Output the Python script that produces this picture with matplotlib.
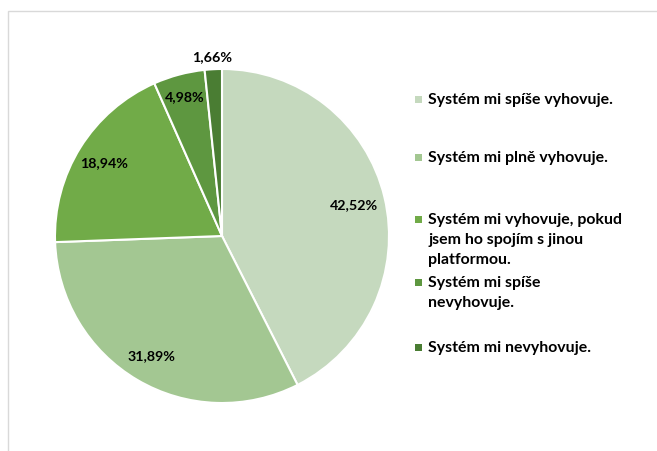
import numpy as np
import matplotlib
matplotlib.use('Agg')
import matplotlib.pyplot as plt
from matplotlib.patches import Rectangle

categories = ['Systém mi spíše vyhovuje.',
              'Systém mi plně vyhovuje.',
              'Systém mi vyhovuje, pokud\njsem ho spojím s jinou\nplatformou.',
              'Systém mi spíše\nnevyhovuje.',
              'Systém mi nevyhovuje.']
values = [42.52, 31.89, 18.94, 4.98, 1.66]
labels = ['42,52%', '31,89%', '18,94%', '4,98%', '1,66%']
colors = ['#C5D9BE', '#A3C792', '#71AB48', '#5E9740', '#4A7D33']

plt.rcParams['font.family'] = ['Lato', 'DejaVu Sans']

W, H = 657, 452
fig = plt.figure(figsize=(W/100, H/100), dpi=100)

# frame
fig.patches.append(Rectangle((8/W, -0.1), 1.2, (H-12)/H + 0.1, transform=fig.transFigure,
                             fill=False, edgecolor='#D9D9D9', linewidth=1.0))

cx, cy, R = 222, 237, 167
ax = fig.add_axes([(cx-R)/W, (H-cy-R)/H, 2*R/W, 2*R/H])
wedges, _ = ax.pie(values, colors=colors, startangle=90, counterclock=False,
                   wedgeprops=dict(edgecolor='white', linewidth=1.5))
ax.set_xlim(-1, 1)
ax.set_ylim(-1, 1)
ax.set_aspect('equal')

rad = [0.81, 0.83, 0.83, 0.87, 1.08]
for w, lab, r in zip(wedges, labels, rad):
    a = np.radians((w.theta1 + w.theta2) / 2)
    ax.text(r*np.cos(a), r*np.sin(a), lab, ha='center', va='center',
            fontsize=10.3, fontweight='bold', color='black')

# legend
ys = [100, 158, 220, 283, 348]
for y, cat, col in zip(ys, categories, colors):
    fig.patches.append(Rectangle((415/W, (H-y-3.5)/H), 7/W, 7/H, transform=fig.transFigure,
                                 facecolor=col, edgecolor='none'))
    fig.text(428/W, (H-y+7)/H, cat, ha='left', va='top', fontsize=11.4, fontweight='bold',
             color='black', linespacing=1.55)

fig.savefig('out.png', dpi=100)
